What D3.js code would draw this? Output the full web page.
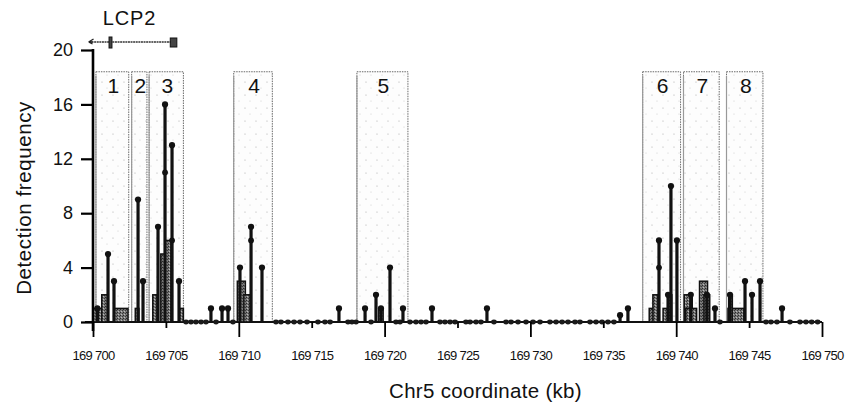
<!DOCTYPE html>
<meta charset="UTF-8">
<title>Detection frequency, Chr5</title>
<style>
  body { margin: 0; background: #fff; }
  text { font-family: "Liberation Sans", Arial, Helvetica, sans-serif; fill: #111; }
</style>
<script src="https://d3js.org/d3.v7.min.js"></script>
<body>
<script>
  // regions (kb), numbered boxes
  var regionIds = [1, 2, 3, 4, 5, 6, 7, 8];
  var regionStart = [169700.2, 169702.65, 169703.85, 169709.65, 169718.1, 169737.7, 169740.5, 169743.45];
  var regionEnd   = [169702.45, 169703.7, 169706.2, 169712.3, 169721.6, 169740.3, 169742.95, 169745.95];
  var regionTop = 18.4;

  // black lollipops: fragment position (kb) and detection frequency
  var stemKb  = [169700.3, 169701.03, 169701.44, 169703.09, 169703.43, 169704.46, 169704.94, 169705.42, 169705.9,
                 169708.09, 169708.85, 169709.26, 169710.08, 169710.84, 169711.59,
                 169716.87, 169718.66, 169719.41, 169719.75, 169720.37, 169721.26, 169723.25, 169727.02,
                 169736.15, 169736.69, 169738.82, 169739.44, 169739.64, 169740.05,
                 169741.0, 169742.11, 169742.66, 169743.69, 169744.72, 169745.2, 169745.75, 169747.26];
  var stemVal = [1, 5, 3, 9, 3, 7, 16, 13, 3,
                 1, 1, 1, 4, 7, 4,
                 1, 1, 2, 1, 4, 1, 1, 1,
                 0.5, 1, 6, 2, 10, 6,
                 2, 2, 1, 2, 3, 2, 3, 1];

  // second set of dots lying on the stems
  var midKb  = [169704.94, 169705.42, 169710.84, 169738.82];
  var midVal = [11, 6, 6, 4];

  // grey bars: fragment extent (kb) and value
  var barStart = [169700.0, 169700.6, 169701.44, 169702.9, 169704.1, 169704.65, 169704.95, 169705.9,
                  169709.9, 169710.35, 169719.6,
                  169738.15, 169738.4, 169739.1, 169739.45, 169740.55, 169740.65, 169741.6, 169741.9,
                  169743.55, 169743.6];
  var barEnd   = [169700.95, 169701.0, 169702.4, 169703.15, 169704.4, 169705.4, 169705.35, 169706.2,
                  169710.45, 169710.8, 169719.9,
                  169738.6, 169738.75, 169739.45, 169739.7, 169741.1, 169741.4, 169742.15, 169742.3,
                  169744.65, 169743.85];
  var barVal   = [1, 2, 1, 1, 2, 5, 6, 1,
                  3, 2, 1,
                  1, 2, 1, 2, 2, 1, 3, 2,
                  1, 2];

  // fragments with zero detections
  var zeroKb = [169706.38, 169706.72, 169707.06, 169707.41, 169707.75, 169708.44, 169709.6,
                169712.55, 169712.89, 169713.37, 169713.79, 169714.2, 169714.68, 169715.43, 169715.91, 169716.26,
                169717.49, 169717.76, 169718.04, 169719.07, 169720.78, 169721.06, 169721.74, 169722.15, 169722.5,
                169722.84, 169723.8, 169724.14, 169724.49, 169724.83, 169725.58, 169725.86, 169726.27, 169726.61,
                169727.5, 169728.33, 169728.67, 169729.15, 169729.7, 169730.18, 169730.66, 169731.34, 169731.76,
                169732.17, 169732.58, 169733.06, 169733.4, 169734.09, 169734.5, 169734.91, 169735.32, 169735.73,
                169743.0, 169746.16, 169746.5, 169746.91, 169747.8, 169748.49, 169748.9, 169749.29, 169749.7];

  // LCP2 gene (kb)
  var geneName = "LCP2";
  var geneStart = 169699.9, geneEnd = 169705.65;
  var exonStart = [169701.1, 169705.3];
  var exonEnd   = [169701.3, 169705.75];

  var xTicks = d3.range(169700, 169751, 5);
  var yTicks = [0, 4, 8, 12, 16, 20];

  var W = 854, H = 408;
  var margin = {top: 50, right: 32, bottom: 86, left: 93};

  var svg = d3.select("body").append("svg").attr("width", W).attr("height", H);

  var x = d3.scaleLinear().domain([169700, 169750]).range([margin.left, W - margin.right]);
  var y = d3.scaleLinear().domain([0, 20]).range([H - margin.bottom, margin.top]);

  var defs = svg.append("defs");
  var dots = defs.append("pattern")
    .attr("id", "speckle").attr("patternUnits", "userSpaceOnUse")
    .attr("width", 11).attr("height", 13);
  dots.append("rect").attr("width", 11).attr("height", 13).attr("fill", "#fdfdfd");
  dots.append("circle").attr("cx", 3).attr("cy", 4).attr("r", 0.6).attr("fill", "#aaa");
  dots.append("circle").attr("cx", 8).attr("cy", 10).attr("r", 0.5).attr("fill", "#c4c4c4");

  var grain = defs.append("pattern")
    .attr("id", "grain").attr("patternUnits", "userSpaceOnUse")
    .attr("width", 3).attr("height", 3);
  grain.append("rect").attr("width", 3).attr("height", 3).attr("fill", "#777");
  grain.append("rect").attr("width", 1).attr("height", 1).attr("fill", "#2a2a2a");
  grain.append("rect").attr("x", 2).attr("y", 1).attr("width", 1).attr("height", 1).attr("fill", "#3a3a3a");
  grain.append("rect").attr("x", 1).attr("y", 2).attr("width", 1).attr("height", 1).attr("fill", "#bbb");

  // numbered boxes
  var boxes = svg.append("g").selectAll("g")
    .data(regionIds).enter().append("g");
  boxes.append("rect")
    .attr("x", function(d, i) { return x(regionStart[i]); })
    .attr("y", y(regionTop))
    .attr("width", function(d, i) { return x(regionEnd[i]) - x(regionStart[i]); })
    .attr("height", y(0) - y(regionTop))
    .attr("fill", "url(#speckle)")
    .attr("stroke", "#6a6a6a")
    .attr("stroke-width", 1)
    .attr("stroke-dasharray", "1.5,1");
  boxes.append("line")
    .attr("x1", function(d, i) { return x(regionStart[i]); })
    .attr("x2", function(d, i) { return x(regionStart[i]); })
    .attr("y1", y(regionTop) + 4).attr("y2", y(0))
    .attr("stroke", "#999").attr("stroke-width", 1.2);
  boxes.append("text")
    .attr("x", function(d, i) { return (x(regionStart[i]) + x(regionEnd[i])) / 2 + 1; })
    .attr("y", y(regionTop) + 21)
    .attr("text-anchor", "middle")
    .attr("font-size", 21)
    .text(function(d) { return d; });

  // baseline
  svg.append("line")
    .attr("x1", x(169699.45)).attr("x2", x(169750))
    .attr("y1", y(0)).attr("y2", y(0))
    .attr("stroke", "#111").attr("stroke-width", 2);

  // grey bars
  svg.append("g").selectAll("rect")
    .data(barVal).enter().append("rect")
    .attr("x", function(d, i) { return x(barStart[i]); })
    .attr("y", function(d) { return y(d); })
    .attr("width", function(d, i) { return x(barEnd[i]) - x(barStart[i]); })
    .attr("height", function(d) { return y(0) - y(d); })
    .attr("fill", "url(#grain)")
    .attr("stroke", "#111")
    .attr("stroke-width", 1.5);

  // zero fragments
  svg.append("g").selectAll("ellipse")
    .data(zeroKb).enter().append("ellipse")
    .attr("cx", function(d) { return x(d); })
    .attr("cy", y(0))
    .attr("rx", 2.8).attr("ry", 2.4)
    .attr("fill", "#1a1a1a");

  // lollipops
  var stems = svg.append("g").selectAll("g")
    .data(stemVal).enter().append("g");
  stems.append("line")
    .attr("x1", function(d, i) { return x(stemKb[i]); })
    .attr("x2", function(d, i) { return x(stemKb[i]); })
    .attr("y1", y(0))
    .attr("y2", function(d) { return y(d); })
    .attr("stroke", "#111")
    .attr("stroke-width", 3.2);
  stems.append("circle")
    .attr("cx", function(d, i) { return x(stemKb[i]); })
    .attr("cy", function(d) { return y(d); })
    .attr("r", 3.1)
    .attr("fill", "#111");

  svg.append("g").selectAll("circle")
    .data(midVal).enter().append("circle")
    .attr("cx", function(d, i) { return x(midKb[i]); })
    .attr("cy", function(d) { return y(d); })
    .attr("r", 2.9)
    .attr("fill", "#111");

  // y axis
  var yAxis = svg.append("g")
    .attr("transform", "translate(" + margin.left + ",0)")
    .call(d3.axisLeft(y).tickValues(yTicks).tickSize(12).tickPadding(8));
  yAxis.select(".domain").attr("d", "M0," + (y(20) - 1) + "V" + (y(0) + 9)).attr("stroke-width", 2.6);
  yAxis.selectAll(".tick line").attr("stroke-width", 2.2);
  yAxis.selectAll("text").attr("font-size", 18).attr("font-family", null);

  // x axis: long ticks every 10 kb, short ticks between
  var xAxis = svg.append("g")
    .attr("transform", "translate(0," + y(0) + ")")
    .call(d3.axisBottom(x).tickValues(xTicks).tickSize(0).tickPadding(29)
      .tickFormat(function(d) { return d3.format(",")(d).replace(",", " "); }));
  xAxis.select(".domain").remove();
  xAxis.selectAll(".tick line")
    .attr("y2", function(d) { return d % 10 === 0 ? 15 : 6; })
    .attr("stroke-width", 1.8);
  xAxis.selectAll("text")
    .attr("font-size", 13)
    .attr("letter-spacing", -0.7)
    .attr("font-family", null);

  // axis titles
  svg.append("text")
    .attr("transform", "translate(31," + ((y(0) + y(20)) / 2 + 12) + ") rotate(-90)")
    .attr("text-anchor", "middle")
    .attr("font-size", 20.5)
    .attr("letter-spacing", 0.6)
    .text("Detection frequency");
  svg.append("text")
    .attr("x", (x(169700) + x(169750)) / 2 + 28)
    .attr("y", 398)
    .attr("text-anchor", "middle")
    .attr("font-size", 20.5)
    .attr("letter-spacing", 0.3)
    .text("Chr5 coordinate (kb)");

  // gene track
  var gy = 42;
  var gene = svg.append("g");
  gene.append("line")
    .attr("x1", x(geneStart)).attr("x2", x(geneEnd))
    .attr("y1", gy).attr("y2", gy)
    .attr("stroke", "#333").attr("stroke-width", 1.6).attr("stroke-dasharray", "2,0.6");
  gene.append("path")
    .attr("d", "M" + (x(geneStart) - 3) + "," + gy + "l5,-3 M" + (x(geneStart) - 3) + "," + gy + "l4,2 M" +
      (x(geneStart) - 3) + "," + gy + "h4")
    .attr("stroke", "#222").attr("stroke-width", 1.3).attr("fill", "none");
  gene.selectAll("rect")
    .data(exonStart).enter().append("rect")
    .attr("x", function(d) { return x(d); })
    .attr("y", function(d, i) { return gy - (i === 0 ? 5 : 4); })
    .attr("width", function(d, i) { return x(exonEnd[i]) - x(d); })
    .attr("height", function(d, i) { return i === 0 ? 11 : 9; })
    .attr("fill", "#444").attr("stroke", "#111").attr("stroke-width", 1);
  gene.append("text")
    .attr("x", x(169702.5))
    .attr("y", 25)
    .attr("text-anchor", "middle")
    .attr("font-size", 20)
    .attr("letter-spacing", 0.8)
    .text(geneName);
</script>
</body>
